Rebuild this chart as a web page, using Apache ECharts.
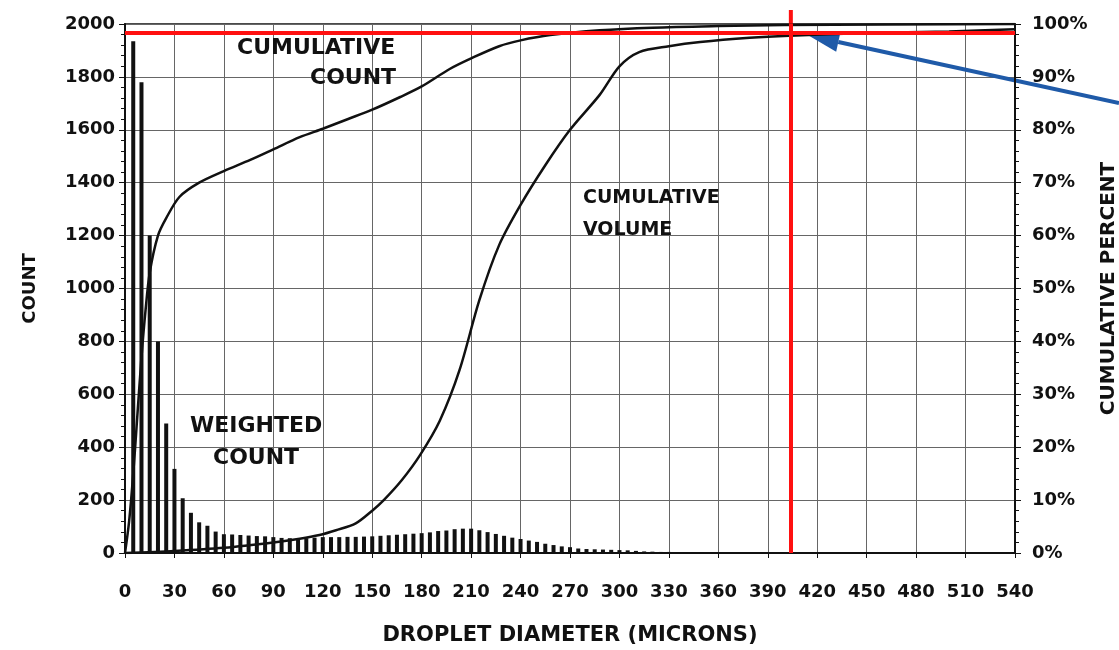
<!DOCTYPE html>
<html>
<head>
<meta charset="utf-8">
<script src="https://cdn.jsdelivr.net/npm/echarts@6/dist/echarts.min.js"></script>
<style>html,body{margin:0;padding:0;background:#fff}#c{width:1119px;height:650px}</style>
</head>
<body>
<div id="c"></div>
<script>
// ---- data ----
const diameters = [5,10,15,20,25,30,35,40,45,50,55,60,65,70,75,80,85,90,95,100,105,110,115,120,125,130,135,140,145,150,155,160,165,170,175,180,185,190,195,200,205,210,215,220,225,230,235,240,245,250,255,260,265,270,275,280,285,290,295,300,305,310,315,320,325,330,335,340,345,350];
const weightedCount = [1935,1780,1200,800,490,318,207,152,116,103,81,71,70,68,66,64,63,60,57,56,56,56,58,60,60,60,61,61,62,63,65,67,69,71,73,75,78,83,85,90,92,92,86,79,72,65,58,53,47,42,35,30,25,22,17,15,14,13,12,11,10,8,6,5,4,4,3,3,2,2];
const cumCountX   = [0,2.5,5,7.5,10,12.5,15,20,25,33,45,60,76,90,106,120,135,150,167,180,197,210,227,240,258,288,320,360,400,540];
const cumCountPct = [0,6,15,26,37,46,53,60,63.3,67.3,70,72.2,74.3,76.3,78.6,80.2,82,83.8,86.2,88.2,91.5,93.5,95.8,96.9,97.9,98.8,99.3,99.6,99.8,100];
const cumVolX   = [0,30,60,90,106,118,128,140,150,157,168,179,191,203,215,227,240,255,270,288,300,312,330,349,379,403,450,500,540];
const cumVolPct = [0,0.4,1.0,2.0,2.7,3.4,4.3,5.6,8.0,10,13.8,18.5,25,34.6,47.8,58.2,65.8,73.3,80,86.6,92,94.7,95.8,96.6,97.4,97.8,98.3,98.6,99];
const xTicks = {min:0, max:540, step:30};
const countTicks = {min:0, max:2000, step:200};
const pctTicks = {min:0, max:100, step:10};
const markDiameter = 404;   // red vertical line (microns)
const markPct = 98.4;       // red horizontal line (percent)

const FONT = 'DejaVu Sans';
const chart = echarts.init(document.getElementById('c'));
const lbl = {fontFamily:FONT, fontWeight:'bold', fontSize:18, color:'#111'};
const splitLine = {show:true, lineStyle:{color:'#666', width:1}};
const nameStyle = (s)=>({fontFamily:FONT, fontWeight:'bold', fontSize:s, color:'#111'});
const bigFont = 'bold 22px "DejaVu Sans"';
const midFont = 'bold 19px "DejaVu Sans"';

chart.setOption({
  animation:false,
  backgroundColor:'#fff',
  grid:{left:125, right:104, top:24, bottom:97, containLabel:false, outerBoundsMode:'none',
        show:true, borderColor:'#111', borderWidth:1.5},
  xAxis:{type:'value', min:xTicks.min, max:xTicks.max, interval:xTicks.step,
    name:'DROPLET DIAMETER (MICRONS)', nameLocation:'middle', nameGap:72, nameTextStyle:nameStyle(21),
    axisLine:{lineStyle:{color:'#111', width:2}},
    axisTick:{show:true, length:5, lineStyle:{color:'#111'}},
    axisLabel:Object.assign({margin:30}, lbl),
    splitLine:splitLine},
  yAxis:[
    {type:'value', min:countTicks.min, max:countTicks.max, interval:countTicks.step,
     name:'COUNT', nameLocation:'middle', nameGap:86, nameRotate:90, nameTextStyle:nameStyle(18),
     axisLine:{show:true, lineStyle:{color:'#111', width:2}},
     axisTick:{show:true, length:6, lineStyle:{color:'#111'}},
     minorTick:{show:true, splitNumber:5, length:4, lineStyle:{color:'#111'}},
     axisLabel:Object.assign({margin:10, formatter:(v)=>String(v)}, lbl),
     splitLine:splitLine},
    {type:'value', min:pctTicks.min, max:pctTicks.max, interval:pctTicks.step, position:'right',
     name:'CUMULATIVE PERCENT', nameLocation:'middle', nameGap:72, nameRotate:90, nameTextStyle:nameStyle(20),
     axisLine:{show:true, lineStyle:{color:'#111', width:2}},
     axisTick:{show:true, length:6, lineStyle:{color:'#111'}},
     minorTick:{show:true, splitNumber:5, length:4, lineStyle:{color:'#111'}},
     axisLabel:Object.assign({margin:17, formatter:'{value}%'}, lbl),
     splitLine:{show:false}}
  ],
  series:[
    {type:'bar', name:'WEIGHTED COUNT', yAxisIndex:0, barWidth:4,
     itemStyle:{color:'#111'},
     data:diameters.map((d,i)=>[d, weightedCount[i]])},
    {type:'line', name:'CUMULATIVE COUNT', yAxisIndex:1, smooth:0.3, symbol:'none',
     lineStyle:{color:'#111', width:2.5},
     data:cumCountX.map((d,i)=>[d, cumCountPct[i]])},
    {type:'line', name:'CUMULATIVE VOLUME', yAxisIndex:1, smooth:0.3, symbol:'none',
     lineStyle:{color:'#111', width:2.5},
     data:cumVolX.map((d,i)=>[d, cumVolPct[i]]),
     markLine:{silent:true, symbol:'none', label:{show:false},
       lineStyle:{color:'#ff1010', width:4, type:'solid'},
       data:[{xAxis:markDiameter}, {yAxis:markPct}]}}
  ]
});

const pTop = chart.convertToPixel({xAxisIndex:0, yAxisIndex:0}, [markDiameter, countTicks.max]);
const tip = chart.convertToPixel({xAxisIndex:0, yAxisIndex:1}, [markDiameter + 11, 97.8]);
const start = [1119, 103];
const dx = start[0]-tip[0], dy = start[1]-tip[1], L = Math.hypot(dx,dy);
const ux = dx/L, uy = dy/L, hl = 30, hw = 10;
const bx = tip[0]+ux*hl, by = tip[1]+uy*hl;
chart.setOption({graphic:[
  {type:'text', left:237, top:37, style:{text:'CUMULATIVE', font:bigFont, fill:'#111'}},
  {type:'text', left:310, top:67, style:{text:'COUNT', font:bigFont, fill:'#111'}},
  {type:'text', left:583, top:189, style:{text:'CUMULATIVE', font:midFont, fill:'#111'}},
  {type:'text', left:583, top:221, style:{text:'VOLUME', font:midFont, fill:'#111'}},
  {type:'text', left:190, top:415, style:{text:'WEIGHTED', font:bigFont, fill:'#111'}},
  {type:'text', left:213, top:447, style:{text:'COUNT', font:bigFont, fill:'#111'}},
  {type:'line', shape:{x1:pTop[0], y1:10, x2:pTop[0], y2:pTop[1]}, style:{stroke:'#ff1010', lineWidth:4}},
  {type:'line', shape:{x1:start[0], y1:start[1], x2:bx, y2:by}, style:{stroke:'#1f5aa8', lineWidth:4}},
  {type:'polygon', shape:{points:[[tip[0],tip[1]],[bx-uy*hw, by+ux*hw],[bx+uy*hw, by-ux*hw]]}, style:{fill:'#1f5aa8'}}
]});
</script>
</body>
</html>
